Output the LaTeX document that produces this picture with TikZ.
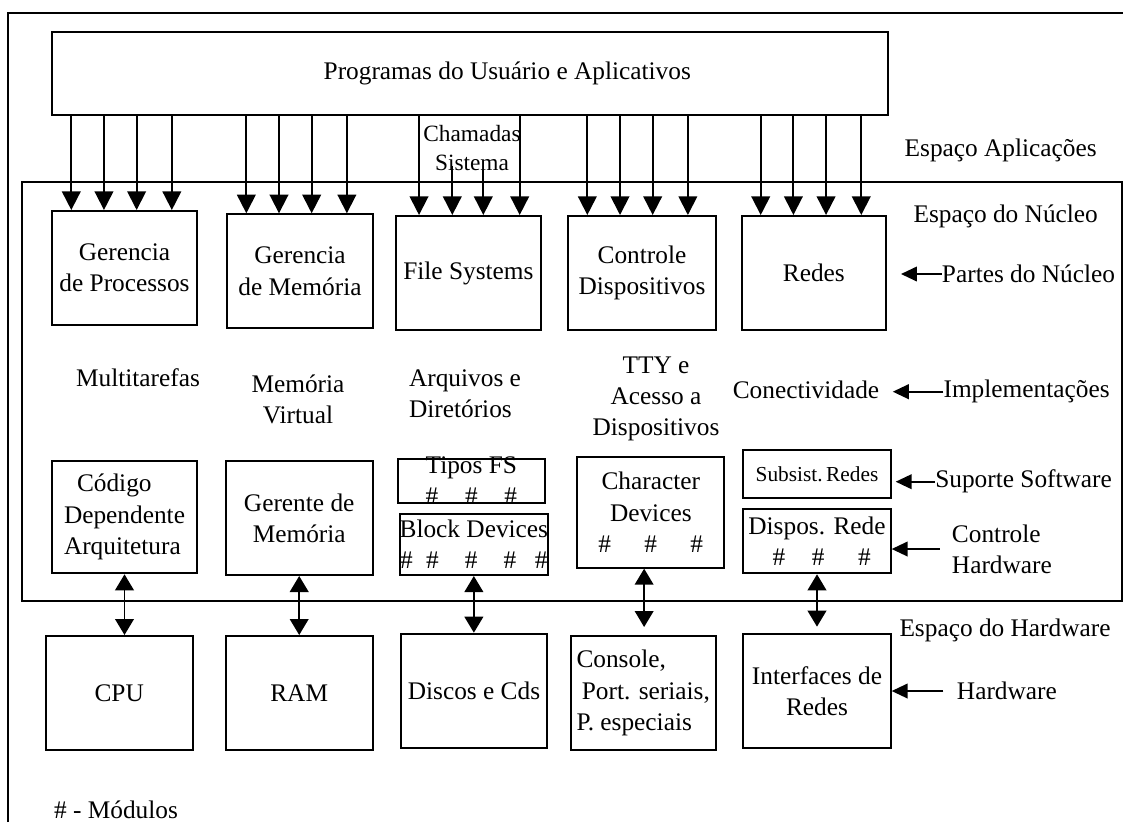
\documentclass[tikz,border=0pt]{standalone}
\usepackage{fontspec}
\setmainfont{Liberation Serif}
\usetikzlibrary{arrows.meta}
\begin{document}
\begin{tikzpicture}[x=0.75pt,y=-0.75pt,
  every node/.style={font=\fontsize{19}{23.5}\selectfont, inner sep=0pt},
  box/.style={draw, line width=1.5pt, rectangle, align=center, inner xsep=-4pt, inner ysep=-12pt},
  txt/.style={align=center},
  frameline/.style={line width=1.5pt},
  down/.style={line width=1.4pt, -{Triangle[width=14pt,length=14pt]}},
  both/.style={line width=1.4pt, {Triangle[width=14pt,length=12pt]}-{Triangle[width=14pt,length=12pt]}},
  side/.style={line width=1.4pt, -{Triangle[width=11pt,length=12pt]}},
]
\useasboundingbox (0,0) rectangle (1123,822);

% outer frame and kernel space
\draw[frameline] (8.3,822) -- (8.3,13.3) -- (1123,13.3);
\draw[frameline] (22.3,181.7) rectangle (1121.7,601);

% user programs
\node[box, minimum width=627pt, minimum height=62pt] (top) at (470.3,73.7) {\hspace*{55.5pt}Programas do Usuário e Aplicativos};
\node[txt, font=\fontsize{17.5}{21.75}\selectfont] (chamadas) at (472,148) {Chamadas\\Sistema};

% kernel parts
\node[box, minimum width=108.3pt, minimum height=85.5pt] (gp) at (124.5,268) {Gerencia\\de Processos};
\node[box, minimum width=109pt, minimum height=85.5pt] (gm) at (300,271.3) {Gerencia\\de Memória};
\node[box, minimum width=108.5pt, minimum height=85.5pt] (fs) at (468.35,273) {File Systems};
\node[box, minimum width=110.5pt, minimum height=85.5pt] (cd) at (642,273) {Controle\\Dispositivos};
\node[box, minimum width=108.2pt, minimum height=85.5pt] (redes) at (813.85,273) {Redes};

% implementations
\node[txt] (multi) at (138,378) {Multitarefas};
\node[txt] (memv) at (298,399.5) {Memória\\Virtual};
\node[txt, align=left] (arq) at (465,394) {Arquivos e\\Diretórios};
\node[txt] (tty) at (656,398.8) {TTY e\\Acesso a\\Dispositivos};
\node[txt] (conect) at (806,390) {Conectividade};

% software support / hardware control
\node[box, align=left, minimum width=108.3pt, minimum height=84.2pt] (codigo) at (124.5,517.15) {\hspace*{9.75pt}Código\\Dependente\\Arquitetura};
\node[box, minimum width=110.25pt, minimum height=85.5pt] (gerente) at (299.2,518) {Gerente de\\Memória};
\node[box, minimum width=110.5pt, minimum height=33pt] (tipos) at (471.35,480.7) {Tipos FS\\\#\hspace{20pt}\#\hspace{20pt}\#};
\node[box, minimum width=110.8pt, minimum height=46pt] (block) at (473.85,544.35) {Block Devices\\\#\hspace{10pt}\#\hspace{19.5pt}\#\hspace{19.5pt}\#\hspace{14pt}\#};
\node[box, minimum width=110.25pt, minimum height=83pt] (chardev) at (650.8,512.35) {Character\\Devices\\\#\hspace{25pt}\#\hspace{25pt}\#};
\node[box, minimum width=110.5pt, minimum height=36.2pt, font=\fontsize{16}{20}\selectfont] (subsist) at (817,474.15) {Subsist.\,Redes};
\node[box, minimum width=110.5pt, minimum height=48pt] (dispos) at (817,541.3) {Dispos. Rede\\\hspace*{7pt}\#\hspace{20pt}\#\hspace{25pt}\#};

% hardware
\node[box, minimum width=110.25pt, minimum height=85.7pt] (cpu) at (119.2,693.15) {CPU};
\node[box, minimum width=110.25pt, minimum height=85.7pt] (ram) at (299.2,693.15) {RAM};
\node[box, minimum width=110pt, minimum height=85.5pt] (discos) at (474,690.7) {Discos e Cds};
\node[box, align=left, minimum width=108.75pt, minimum height=85.7pt] (console) at (643.2,693.15) {Console,\\\hspace*{4pt}Port. seriais,\\P. especiais};
\node[box, minimum width=110.5pt, minimum height=85pt] (interfaces) at (817,691) {Interfaces de\\Redes};

% layer captions
\node[txt] (espapl) at (1000.7,150.7) {Espaço Aplicações};
\node[txt] (espnuc) at (1005.7,216) {Espaço do Núcleo};
\node[txt] (esphw) at (1005,630.3) {Espaço do Hardware};
\node[txt, anchor=west] (partes) at (941.7,274) {Partes do Núcleo};
\node[txt, anchor=west] (impl) at (943.3,391.7) {Implementações};
\node[txt, anchor=west] (suporte) at (935,481.7) {Suporte Software};
\node[txt, anchor=west, align=left] (ctrlhw) at (951.7,549) {Controle\\Hardware};
\node[txt, anchor=west] (hw) at (956.7,691) {Hardware};
\node[txt] (modulos) at (116,809.3) {\# - Módulos};

% system calls
\foreach \b in {gp,gm,cd,redes}{
  \foreach \dx in {15,39.5,64,90.4}{
    \coordinate (tmp) at ([xshift=\dx pt]\b.north west);
    \draw[down] (tmp |- top.south) -- (tmp);
  }
}
\coordinate (fsA) at ([xshift=18pt]fs.north west);
\coordinate (fsD) at ([xshift=93.5pt]fs.north west);
\coordinate (sysB) at (452.3,166);
\coordinate (sysC) at (483.3,170);
\draw[down] (fsA |- top.south) -- (fsA);
\draw[down] (sysB) -- (sysB |- fs.north);
\draw[down] (sysC) -- (sysC |- fs.north);
\draw[down] (fsD |- top.south) -- (fsD);

% kernel / hardware links
\draw[both] (codigo.south) -- (codigo.south |- cpu.north);
\draw[both] (gerente.south) -- (gerente.south |- ram.north);
\draw[both] (block.south) -- (block.south |- discos.north);
\draw[both, shorten >=6pt] ([xshift=-5pt]chardev.south) -- ([xshift=-5pt]chardev.south |- console.north);
\draw[both, shorten >=5pt] (dispos.south) -- (dispos.south |- interfaces.north);

% caption pointers
\draw[side, shorten >=10.5pt] (partes.west) -- (partes.west -| redes.east);
\draw[side, shorten >=10pt] (impl.west) -- (impl.west -| conect.east);
\draw[side, shorten >=3pt] (suporte.west) -- (suporte.west -| subsist.east);
\draw[side, shorten <=9pt] (ctrlhw.west) -- (ctrlhw.west -| dispos.east);
\draw[side, shorten <=10pt] (hw.west) -- (hw.west -| interfaces.east);
\end{tikzpicture}
\end{document}
